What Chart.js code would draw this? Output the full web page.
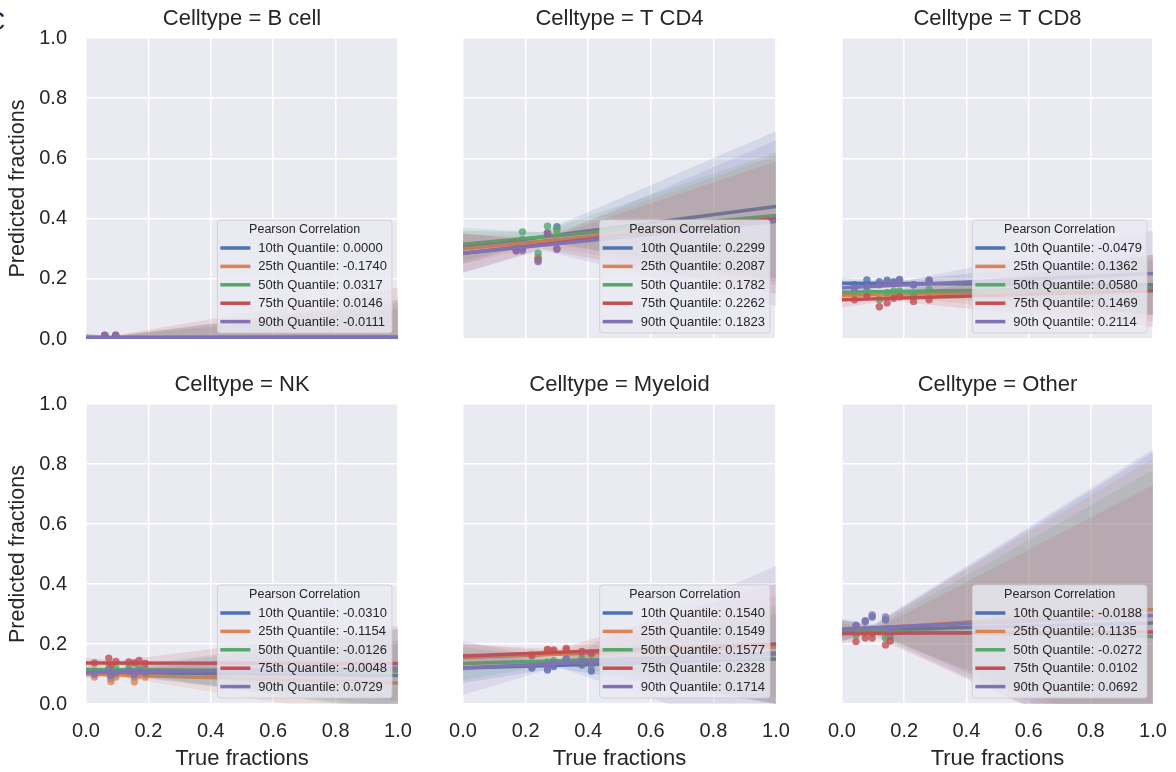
<!DOCTYPE html>
<html>
<head>
<meta charset="utf-8">
<script src="https://cdn.jsdelivr.net/npm/chart.js@4/dist/chart.umd.min.js"></script>
<style>
  body { margin: 0; background: #fff; width: 1176px; height: 772px; overflow: hidden; position: relative; }
  .panel { position: absolute; }
  #tag { position: absolute; left: -13px; top: 9px; font: 25px "Liberation Sans", Arial, sans-serif; color: #262626; line-height: 1; }
</style>
</head>
<body>
<div id="tag">C</div>
<script>
const cellTypes = ['B cell', 'T CD4', 'T CD8', 'NK', 'Myeloid', 'Other'];
const quantiles = ['10th Quantile', '25th Quantile', '50th Quantile', '75th Quantile', '90th Quantile'];
const colors = ['#4C72B0', '#DD8452', '#55A868', '#C44E52', '#8172B3'];
const axisTicks = [0, 0.2, 0.4, 0.6, 0.8, 1.0];

// Pearson correlation shown in each legend
const pearsonR = [
  [0.0000, -0.1740, 0.0317, 0.0146, -0.0111],
  [0.2299, 0.2087, 0.1782, 0.2262, 0.1823],
  [-0.0479, 0.1362, 0.0580, 0.1469, 0.2114],
  [-0.0310, -0.1154, -0.0126, -0.0048, 0.0729],
  [0.1540, 0.1549, 0.1577, 0.2328, 0.1714],
  [-0.0188, 0.1135, -0.0272, 0.0102, 0.0692]
];

// scatter points: true fractions (x) and predicted per quantile (y)
const pointX = [
  [0.06, 0.095],
  [0.17, 0.19, 0.24, 0.27, 0.30],
  [0.04, 0.08, 0.12, 0.145, 0.166, 0.185, 0.23, 0.28],
  [0.027, 0.073, 0.08, 0.096, 0.137, 0.155, 0.17, 0.19],
  [0.22, 0.27, 0.29, 0.33, 0.38, 0.41],
  [0.045, 0.075, 0.097, 0.14, 0.155]
];
const pointY = [
  [[0.011, 0.011], [0.011, 0.012], [0.012, 0.012], [0.013, 0.013], [0.012, 0.012]],
  [[0.30, 0.33, 0.27, 0.35, 0.373], [0.295, 0.30, 0.27, 0.35, 0.35], [0.30, 0.356, 0.285, 0.375, 0.364],
   [0.293, 0.30, 0.262, 0.35, 0.30], [0.293, 0.293, 0.257, 0.353, 0.298]],
  [[0.18, 0.196, 0.19, 0.195, 0.19, 0.198, 0.18, 0.195], [0.15, 0.15, 0.14, 0.15, 0.145, 0.15, 0.14, 0.15],
   [0.16, 0.16, 0.13, 0.155, 0.16, 0.16, 0.15, 0.165], [0.13, 0.14, 0.107, 0.12, 0.135, 0.14, 0.125, 0.13],
   [0.17, 0.175, 0.18, 0.19, 0.185, 0.195, 0.18, 0.195]],
  [[0.10, 0.11, 0.085, 0.10, 0.11, 0.09, 0.105, 0.10], [0.09, 0.10, 0.075, 0.09, 0.10, 0.074, 0.095, 0.09],
   [0.11, 0.12, 0.11, 0.12, 0.12, 0.11, 0.12, 0.115], [0.137, 0.153, 0.13, 0.142, 0.14, 0.137, 0.145, 0.135],
   [0.10, 0.11, 0.095, 0.105, 0.11, 0.10, 0.11, 0.105]],
  [[0.12, 0.113, 0.125, 0.147, 0.13, 0.11], [0.16, 0.18, 0.175, 0.18, 0.17, 0.165], [0.135, 0.14, 0.145, 0.15, 0.15, 0.14],
   [0.163, 0.182, 0.18, 0.185, 0.175, 0.17], [0.125, 0.12, 0.135, 0.15, 0.14, 0.13]],
  [[0.26, 0.275, 0.29, 0.28, 0.24], [0.24, 0.25, 0.25, 0.24, 0.23], [0.23, 0.24, 0.235, 0.22, 0.225],
   [0.208, 0.22, 0.22, 0.197, 0.21], [0.263, 0.278, 0.297, 0.29, 0.25]]
];

// regression line values at x = 0 and x = 1
const lineAt0 = [
  [0.004, 0.004, 0.005, 0.005, 0.004],
  [0.305, 0.300, 0.315, 0.285, 0.285],
  [0.185, 0.145, 0.155, 0.130, 0.170],
  [0.105, 0.100, 0.115, 0.137, 0.105],
  [0.120, 0.155, 0.135, 0.160, 0.120],
  [0.245, 0.245, 0.245, 0.235, 0.250]
];
const lineAt1 = [
  [0.004, 0.002, 0.006, 0.006, 0.004],
  [0.440, 0.400, 0.410, 0.400, 0.390],
  [0.180, 0.165, 0.170, 0.160, 0.218],
  [0.095, 0.070, 0.110, 0.135, 0.120],
  [0.150, 0.190, 0.165, 0.200, 0.170],
  [0.270, 0.315, 0.225, 0.240, 0.295]
];

// confidence bands: x positions and lower / upper edges
const bandX = [
  [0, 0.08, 1], [0, 0.25, 1], [0, 0.15, 1], [0, 0.10, 1], [0, 0.30, 1], [0, 0.10, 1]
];
const bandLow = [
  [[-0.01, 0, -0.09], [-0.01, 0, -0.13], [-0.01, 0, -0.11], [-0.012, 0, -0.15], [-0.01, 0, -0.12]],
  [[0.25, 0.325, 0.19], [0.25, 0.31, 0.18], [0.26, 0.325, 0.20], [0.22, 0.30, 0.15], [0.22, 0.295, 0.11]],
  [[0.165, 0.178, 0.08], [0.125, 0.14, 0.06], [0.135, 0.15, 0.08], [0.105, 0.127, 0.04], [0.15, 0.17, 0.08]],
  [[0.09, 0.098, -0.02], [0.085, 0.092, -0.06], [0.10, 0.108, -0.03], [0.12, 0.13, 0.01], [0.09, 0.098, -0.01]],
  [[0.07, 0.12, 0.0], [0.11, 0.155, 0.02], [0.08, 0.134, 0.0], [0.12, 0.162, 0.0], [0.03, 0.124, -0.12]],
  [[0.21, 0.235, -0.20], [0.21, 0.24, -0.15], [0.21, 0.233, -0.12], [0.20, 0.226, -0.20], [0.215, 0.245, -0.18]]
];
const bandHigh = [
  [[0.015, 0.008, 0.10], [0.015, 0.008, 0.13], [0.016, 0.009, 0.12], [0.018, 0.01, 0.17], [0.015, 0.008, 0.13]],
  [[0.36, 0.355, 0.69], [0.35, 0.34, 0.61], [0.37, 0.355, 0.62], [0.35, 0.33, 0.59], [0.35, 0.325, 0.66]],
  [[0.205, 0.19, 0.28], [0.165, 0.155, 0.27], [0.175, 0.163, 0.26], [0.155, 0.14, 0.28], [0.19, 0.183, 0.36]],
  [[0.12, 0.11, 0.21], [0.115, 0.105, 0.20], [0.13, 0.12, 0.25], [0.155, 0.144, 0.26], [0.12, 0.112, 0.25]],
  [[0.17, 0.14, 0.30], [0.20, 0.175, 0.36], [0.19, 0.154, 0.33], [0.20, 0.182, 0.40], [0.21, 0.146, 0.46]],
  [[0.28, 0.26, 0.84], [0.28, 0.262, 0.82], [0.28, 0.253, 0.78], [0.27, 0.245, 0.73], [0.285, 0.265, 0.85]]
];

const FONT = '"Liberation Sans", Arial, sans-serif';
const TEXT = '#262626';
Chart.defaults.font.family = FONT;
Chart.defaults.color = TEXT;

function rgba(hex, a) {
  const n = parseInt(hex.slice(1), 16);
  return `rgba(${n >> 16},${(n >> 8) & 255},${n & 255},${a})`;
}

// grey seaborn face behind the plot area
const facePlugin = {
  id: 'face',
  beforeDraw(chart) {
    const { ctx, chartArea: a } = chart;
    ctx.save();
    ctx.fillStyle = '#EAEAF2';
    ctx.fillRect(a.left, a.top, a.right - a.left, a.bottom - a.top);
    ctx.restore();
  }
};

// legend box in the lower right corner of each panel
const pearsonLegend = {
  id: 'pearsonLegend',
  afterDatasetsDraw(chart, args, opts) {
    const { ctx, chartArea: a } = chart;
    const labels = quantiles.map((q, i) => q + ': ' + opts.values[i].toFixed(4));
    ctx.save();
    ctx.font = '13px ' + FONT;
    const tw = Math.max(...labels.map(t => ctx.measureText(t).width));
    const w = 41 + tw + 5, h = 113;
    const x0 = a.right - 6 - w, y0 = a.bottom - 6 - h;
    ctx.beginPath();
    ctx.roundRect(x0, y0, w, h, 3);
    ctx.fillStyle = 'rgba(234,234,242,0.8)';
    ctx.fill();
    ctx.strokeStyle = 'rgba(204,204,204,0.8)';
    ctx.lineWidth = 1;
    ctx.stroke();
    ctx.fillStyle = TEXT;
    ctx.textBaseline = 'middle';
    ctx.textAlign = 'center';
    ctx.font = '12.5px ' + FONT;
    ctx.fillText('Pearson Correlation', x0 + w / 2, y0 + 10);
    ctx.textAlign = 'left';
    ctx.font = '13px ' + FONT;
    labels.forEach((t, i) => {
      const y = y0 + 28 + i * 18.4;
      ctx.strokeStyle = colors[i];
      ctx.lineWidth = 3.5;
      ctx.beginPath();
      ctx.moveTo(x0 + 3, y);
      ctx.lineTo(x0 + 33, y);
      ctx.stroke();
      ctx.fillText(t, x0 + 41, y + 0.5);
    });
    ctx.restore();
  }
};

// drop the label overhang padding so every plot area lands on the grid
function noPad(s) {
  s.paddingLeft = 0;
  s.paddingRight = 0;
  s.paddingTop = 0;
  s.paddingBottom = 0;
}

const lefts = [0, 440, 819];
const widths = [412, 350, 348];
const tops = [0, 366];
const heights = [348, 406];

cellTypes.forEach((cell, p) => {
  const col = p % 3, row = Math.floor(p / 3);
  const div = document.createElement('div');
  div.className = 'panel';
  div.style.left = lefts[col] + 'px';
  div.style.top = tops[row] + 'px';
  const canvas = document.createElement('canvas');
  canvas.width = widths[col];
  canvas.height = heights[row];
  div.appendChild(canvas);
  document.body.appendChild(div);

  const datasets = [];
  let k = 0;
  quantiles.forEach((q, i) => {
    datasets.push({
      type: 'scatter',
      data: pointX[p].map((x, j) => ({ x, y: pointY[p][i][j] })),
      backgroundColor: rgba(colors[i], 0.8),
      borderWidth: 0,
      pointRadius: 3.7,
      order: 1000 - k++
    });
    datasets.push({
      type: 'line',
      data: [{ x: 0, y: lineAt0[p][i] }, { x: 1, y: lineAt1[p][i] }],
      borderColor: colors[i],
      borderWidth: 3.5,
      pointRadius: 0,
      fill: false,
      order: 1000 - k++
    });
    datasets.push({
      type: 'line',
      data: bandX[p].map((x, j) => ({ x, y: bandLow[p][i][j] })),
      borderColor: 'transparent',
      pointRadius: 0,
      fill: false,
      order: 1000 - k++
    });
    datasets.push({
      type: 'line',
      data: bandX[p].map((x, j) => ({ x, y: bandHigh[p][i][j] })),
      borderColor: 'transparent',
      backgroundColor: rgba(colors[i], 0.15),
      pointRadius: 0,
      fill: '-1',
      order: 1000 - k++
    });
  });

  new Chart(canvas, {
    type: 'line',
    data: { datasets },
    options: {
      responsive: false,
      animation: false,
      devicePixelRatio: 1,
      layout: { padding: { left: 0, right: 14, top: 0, bottom: 0 } },
      plugins: {
        legend: { display: false },
        tooltip: { enabled: false },
        title: {
          display: true,
          text: 'Celltype = ' + cell,
          fullSize: false,
          color: TEXT,
          font: { size: 22, weight: 'normal' },
          padding: { top: 6, bottom: 5.6 }
        },
        pearsonLegend: { values: pearsonR[p] }
      },
      scales: {
        x: {
          type: 'linear',
          min: 0,
          max: 1,
          afterBuildTicks: s => { s.ticks = axisTicks.map(v => ({ value: v })); },
          afterFit: s => { s.height = row === 1 ? 68 : 9; noPad(s); },
          ticks: {
            display: row === 1,
            padding: 15,
            color: TEXT,
            font: { size: 20 },
            maxRotation: 0,
            callback: v => v.toFixed(1)
          },
          grid: { color: '#ffffff', lineWidth: 1.5, drawTicks: false },
          border: { display: false },
          title: {
            display: row === 1,
            text: 'True fractions',
            color: TEXT,
            font: { size: 22 },
            padding: { top: 0, bottom: 0 }
          }
        },
        y: {
          type: 'linear',
          min: 0,
          max: 1,
          afterBuildTicks: s => { s.ticks = axisTicks.map(v => ({ value: v })); },
          afterFit: s => { s.width = col === 0 ? 86 : 23; noPad(s); },
          ticks: {
            display: col === 0,
            padding: 19,
            color: TEXT,
            font: { size: 20 },
            callback: v => v.toFixed(1)
          },
          grid: { color: '#ffffff', lineWidth: 1.5, drawTicks: false },
          border: { display: false },
          title: {
            display: col === 0,
            text: 'Predicted fractions',
            color: TEXT,
            font: { size: 21.5 },
            padding: { top: 5, bottom: 0 }
          }
        }
      }
    },
    plugins: [facePlugin, pearsonLegend]
  });
});
</script>
</body>
</html>
